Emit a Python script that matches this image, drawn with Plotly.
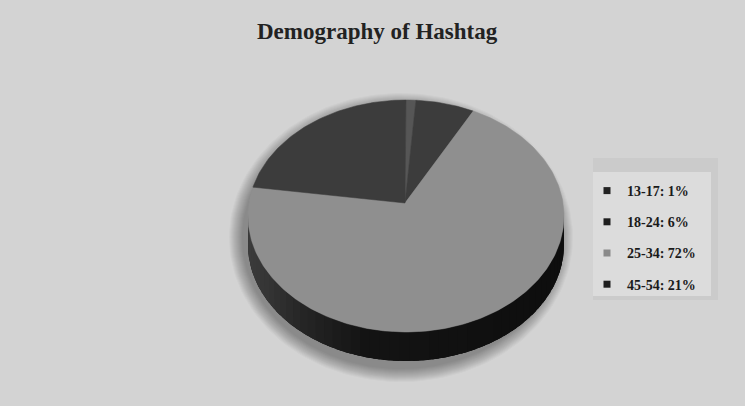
import numpy as np
import plotly.graph_objects as go

# ---- data ----
categories = ["13-17", "18-24", "25-34", "45-54"]
shares = [1, 6, 72, 21]
slice_colors = ["#565656", "#3c3c3c", "#8f8f8f", "#3c3c3c"]
legend_colors = ["#222222", "#1e1e1e", "#8a8a8a", "#1e1e1e"]
title_text = "Demography of Hashtag"

# ---- geometry (pixel space) ----
W, H = 745, 406
apex_x, apex_y = 405, 203
cx, cy = 406, 216
rx, ry = 158, 116
depth = 29
BG = "#d3d3d3"


def ell(theta_deg, dy=0.0):
    t = np.radians(theta_deg)
    return cx + rx * np.sin(t), cy - ry * np.cos(t) + dy


fig = go.Figure()

# soft shadow
for k in range(14, 0, -1):
    t = np.linspace(0, 360, 181)
    xs = cx - 5 + (rx + k) * np.sin(np.radians(t))
    ys = cy + depth / 2 + 7 - (ry + depth / 2 + k) * np.cos(np.radians(t))
    fig.add_trace(go.Scatter(x=xs, y=ys, mode="lines", fill="toself",
                             line=dict(width=0), fillcolor="rgba(0,0,0,0.026)",
                             hoverinfo="skip", showlegend=False))

# side of the cylinder (front half): solid base, then gradient by x
t = np.linspace(88, 272, 120)
x1, y1 = ell(t)
x2, y2 = ell(t[::-1], depth)
fig.add_trace(go.Scatter(x=np.concatenate([x1, x2]), y=np.concatenate([y1, y2]),
                         mode="lines", fill="toself", line=dict(width=0),
                         fillcolor="rgb(20,20,20)", hoverinfo="skip", showlegend=False))
nseg = 50
edges = np.linspace(90, 270, nseg + 1)
for i in range(nseg):
    a0 = edges[i] - 1.2
    a1 = edges[i + 1] + 1.2
    t = np.linspace(a0, a1, 6)
    x1, y1 = ell(t)
    x2, y2 = ell(t[::-1], depth)
    xm = np.mean(ell(np.array([edges[i], edges[i + 1]]))[0])
    v = np.interp(xm, [245, 300, 360, 560], [62, 38, 20, 14])
    col = "rgb(%d,%d,%d)" % (v, v, v)
    fig.add_trace(go.Scatter(x=np.concatenate([x1, x2]), y=np.concatenate([y1, y2]),
                             mode="lines", fill="toself", line=dict(width=0),
                             fillcolor=col, hoverinfo="skip", showlegend=False))

# top faces of slices
total = float(sum(shares))
start = 0.0
for cat, val, col in zip(categories, shares, slice_colors):
    span = 360.0 * val / total
    t = np.linspace(start, start + span, max(int(span), 2) + 1)
    ex, ey = ell(t)
    xs = np.concatenate([[apex_x], ex, [apex_x]])
    ys = np.concatenate([[apex_y], ey, [apex_y]])
    fig.add_trace(go.Scatter(x=xs, y=ys, mode="lines", fill="toself",
                             line=dict(width=0.5, color=col), fillcolor=col,
                             name=f"{cat}: {val}%", hoverinfo="name",
                             showlegend=False))
    start += span

# legend entries
for i, (cat, val, lc) in enumerate(zip(categories, shares, legend_colors)):
    fig.add_trace(go.Scatter(x=[None], y=[None], mode="markers",
                             marker=dict(symbol="square", size=7, color=lc),
                             name=f"<b>{cat}: {val}%</b>", legendgroup=f"g{i}",
                             showlegend=True))

shapes = [
    dict(type="rect", xref="x", yref="y", x0=593, x1=718, y0=158, y1=300,
         fillcolor="#cbcbcb", line=dict(width=0), layer="below"),
    dict(type="rect", xref="x", yref="y", x0=593, x1=711, y0=172, y1=296,
         fillcolor="#dcdcdc", line=dict(width=0), layer="below"),
]

fig.update_layout(
    width=W, height=H,
    margin=dict(l=0, r=0, t=0, b=0),
    paper_bgcolor=BG, plot_bgcolor=BG,
    xaxis=dict(range=[0, W], visible=False, fixedrange=True),
    yaxis=dict(range=[H, 0], visible=False, fixedrange=True),
    shapes=shapes,
    showlegend=True,
    legend=dict(x=587 / W, y=1 - 175 / H, xanchor="left", yanchor="top",
                bgcolor="rgba(0,0,0,0)", traceorder="grouped", tracegroupgap=10,
                itemwidth=30,
                font=dict(family="Liberation Serif", size=14, color="#1a1a1a"),
                itemclick=False, itemdoubleclick=False),
    annotations=[dict(text="<b>" + title_text + "</b>", x=377, y=31, xref="x", yref="y",
                      showarrow=False, xanchor="center", yanchor="middle",
                      font=dict(family="Liberation Serif", size=23, color="#222222"))],
)

fig.write_html("out.html")
